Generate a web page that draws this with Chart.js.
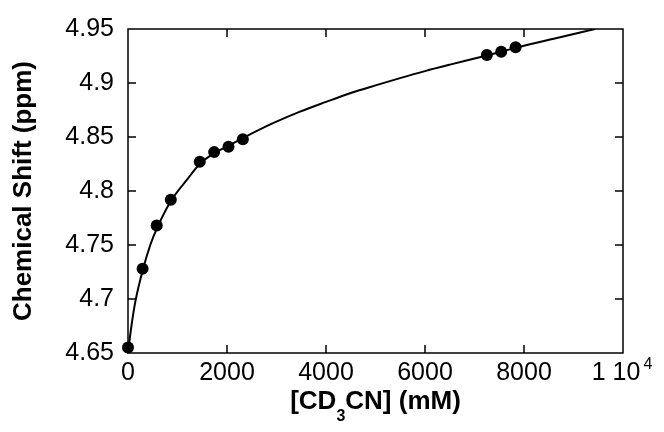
<!DOCTYPE html>
<html>
<head>
<meta charset="utf-8">
<script src="https://cdn.jsdelivr.net/npm/chart.js@4.4.0/dist/chart.umd.min.js"></script>
<style>
    html, body { margin: 0; padding: 0; background: #fff; }
    #wrap { width: 664px; height: 432px; }
</style>
</head>
<body>
<div id="wrap"><canvas id="shiftChart" width="664" height="432"></canvas></div>
<script>
// measured points
const concMeasured = [0, 295, 580, 865, 1450, 1740, 2030, 2320, 7250, 7540, 7830];
const shiftMeasured = [4.655, 4.728, 4.768, 4.792, 4.827, 4.836, 4.841, 4.848, 4.926, 4.929, 4.933];

// fitted curve
const concFit = [0, 60, 150, 300, 450, 600, 870, 1200, 1450, 1740, 2030, 2320, 2940, 3475, 4000, 4485, 5000, 5495, 6000, 6505, 7250, 7540, 7830, 8600, 9434];
const shiftFit = [4.650, 4.672, 4.698, 4.727, 4.750, 4.767, 4.791, 4.811, 4.825, 4.835, 4.842, 4.849, 4.863, 4.8735, 4.8825, 4.8905, 4.8978, 4.9045, 4.911, 4.917, 4.9255, 4.929, 4.9325, 4.941, 4.950];

const xTickValues = [0, 2000, 4000, 6000, 8000, 10000];
const xTickLabels = ['0', '2000', '4000', '6000', '8000', '1 10  '];
const yTickValues = [4.65, 4.7, 4.75, 4.8, 4.85, 4.9, 4.95];

const FONT = '"Liberation Sans", Arial, Helvetica, sans-serif';

const framePlugin = {
    id: 'frame',
    afterDraw(chart) {
        const { ctx, chartArea: a, scales: { x, y } } = chart;
        ctx.save();
        ctx.strokeStyle = '#000';
        ctx.lineWidth = 1.5;
        ctx.strokeRect(a.left, a.top, a.right - a.left, a.bottom - a.top);

        // inward ticks on all four sides
        const len = 8;
        ctx.beginPath();
        xTickValues.slice(1, -1).forEach(v => {
            const px = x.getPixelForValue(v);
            ctx.moveTo(px, a.bottom); ctx.lineTo(px, a.bottom - len);
            ctx.moveTo(px, a.top); ctx.lineTo(px, a.top + len);
        });
        yTickValues.slice(1, -1).forEach(v => {
            const py = y.getPixelForValue(v);
            ctx.moveTo(a.left, py); ctx.lineTo(a.left + len, py);
            ctx.moveTo(a.right, py); ctx.lineTo(a.right - len, py);
        });
        ctx.stroke();

        // exponent on the last x tick
        ctx.fillStyle = '#000';
        ctx.font = '25px ' + FONT;
        const wMain = ctx.measureText('1 10').width;
        const wFull = ctx.measureText(xTickLabels[xTickLabels.length - 1]).width;
        const px = x.getPixelForValue(10000);
        ctx.font = '16px ' + FONT;
        ctx.textBaseline = 'alphabetic';
        ctx.textAlign = 'left';
        ctx.fillText('4', px - wFull / 2 + wMain + 3, a.bottom + 16);

        // x axis title with subscript
        const parts = [['[CD', 26, 0], ['3', 16, 12], ['CN] (mM)', 26, 0]];
        let total = 0;
        parts.forEach(p => { ctx.font = 'bold ' + p[1] + 'px ' + FONT; total += ctx.measureText(p[0]).width; });
        let cx = (a.left + a.right) / 2 - total / 2;
        parts.forEach(p => {
            ctx.font = 'bold ' + p[1] + 'px ' + FONT;
            ctx.fillText(p[0], cx, 409 + p[2]);
            cx += ctx.measureText(p[0]).width;
        });
        ctx.restore();
    }
};

new Chart(document.getElementById('shiftChart'), {
    type: 'scatter',
    data: {
        datasets: [
            {
                label: 'Measured',
                data: concMeasured.map((c, i) => ({ x: c, y: shiftMeasured[i] })),
                pointRadius: 6,
                pointBackgroundColor: '#000',
                pointBorderColor: '#000',
                pointBorderWidth: 0,
                showLine: false,
                clip: false
            },
            {
                label: 'Fit',
                data: concFit.map((c, i) => ({ x: c, y: shiftFit[i] })),
                showLine: true,
                pointRadius: 0,
                borderColor: '#000',
                borderWidth: 2,
                cubicInterpolationMode: 'monotone'
            }
        ]
    },
    options: {
        responsive: false,
        animation: false,
        devicePixelRatio: 1,
        layout: { padding: { top: 24, right: 41, left: 0, bottom: 0 } },
        plugins: { legend: { display: false }, tooltip: { enabled: false } },
        scales: {
            x: {
                type: 'linear',
                min: 0,
                max: 10000,
                afterFit: s => { s.height = 79; },
                afterBuildTicks: s => { s.ticks = xTickValues.map(v => ({ value: v })); },
                grid: { display: false, drawTicks: false },
                border: { display: false },
                ticks: {
                    color: '#000',
                    padding: 5,
                    maxRotation: 0,
                    autoSkip: false,
                    font: { family: FONT, size: 25 },
                    callback: v => xTickLabels[xTickValues.indexOf(v)]
                }
            },
            y: {
                min: 4.65,
                max: 4.95,
                afterFit: s => { s.width = 128; },
                afterBuildTicks: s => { s.ticks = yTickValues.map(v => ({ value: v })); },
                grid: { display: false, drawTicks: false },
                border: { display: false },
                ticks: {
                    color: '#000',
                    padding: 14,
                    font: { family: FONT, size: 25 },
                    callback: v => String(Number(v.toFixed(2)))
                },
                title: {
                    display: true,
                    text: 'Chemical Shift (ppm)',
                    color: '#000',
                    padding: { top: 8, bottom: 0 },
                    font: { family: FONT, size: 26, weight: 'bold' }
                }
            }
        }
    },
    plugins: [framePlugin]
});
</script>
</body>
</html>
